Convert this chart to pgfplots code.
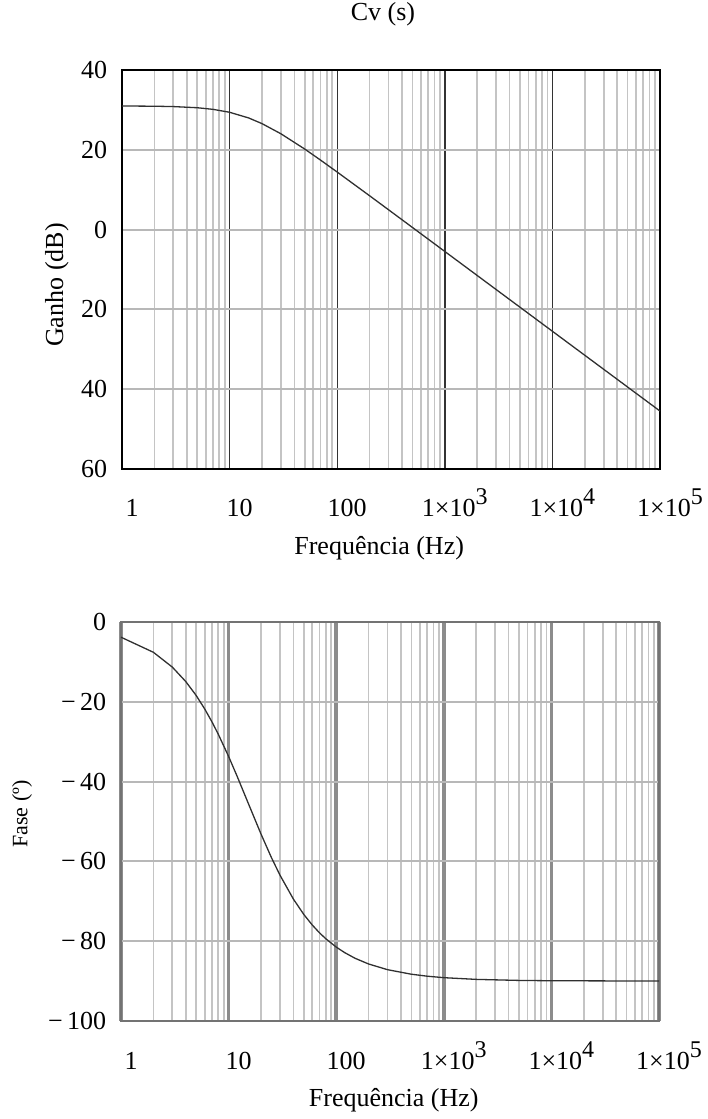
\documentclass[border=0pt]{standalone}
\usepackage{fontspec}
\setmainfont{Liberation Serif}
\usepackage{pgfplots}
\pgfplotsset{compat=1.18}

\definecolor{gridminor}{HTML}{C4C4C4}
\definecolor{gridy}{HTML}{B8B8B8}
\definecolor{curve}{HTML}{303030}

\newcommand{\sx}[1]{1×10\raisebox{12pt}{\fontsize{24}{24}\selectfont #1}}

\begin{document}
\fontsize{26}{31}\selectfont
\begin{tikzpicture}[x=1pt,y=1pt]
\useasboundingbox (0,0) rectangle (707,1119);

% ---------- Gain ----------
\begin{axis}[
  scale only axis, width=538pt, height=399pt,
  at={(122pt,650pt)}, anchor=south west,
  xmode=log, xmin=1, xmax=100000,
  xtick={1,10,100,1000,10000,100000},
  xticklabels={1,10,100,\sx{3},\sx{4},\sx{5}},
  minor xtick={2,3,4,5,6,7,8,9,20,30,40,50,60,70,80,90,200,300,400,500,600,700,800,900,2000,3000,4000,5000,6000,7000,8000,9000,20000,30000,40000,50000,60000,70000,80000,90000},
  xmajorgrids, xminorgrids, ymajorgrids,
  major tick length=0pt, minor tick length=0pt,
  xticklabel style={anchor=base, yshift=-48pt, xshift=10pt},
  yticklabel style={xshift=-6pt},
  ymin=-60, ymax=40,
  ytick={-60,-40,-20,0,20,40},
  yticklabels={60,40,20,0,20,40},
  axis line style={black, line width=1.3pt},
  every major x grid/.style={black!80, line width=1.4pt},
  every minor x grid/.style={gridminor, line width=1.7pt},
  every major y grid/.style={gridy, line width=1.9pt},
  title={Cv (s)},
  title style={at={(axis description cs:0.485,1.125)}, anchor=center},
  ylabel={Ganho (dB)},
  ylabel style={at={(axis description cs:-0.121,0.461)}, anchor=center},
  xlabel={Frequência (Hz)},
  xlabel style={at={(axis description cs:0.478,-0.198)}, anchor=center},
]
\addplot[no markers, curve, line width=1.3pt] coordinates {
 (1,30.98) (2,30.92) (3,30.83) (5,30.54) (7,30.14) (10,29.40) (15,27.99)
 (20,26.56) (30,24.01) (50,20.17) (70,17.42) (100,14.42) (200,8.48)
 (300,4.97) (500,0.54) (1000,-5.48) (2000,-11.50) (10000,-25.48) (100000,-45.48)
};
\end{axis}

% ---------- Phase ----------
\begin{axis}[
  scale only axis, width=538pt, height=399pt,
  at={(121pt,98pt)}, anchor=south west,
  xmode=log, xmin=1, xmax=100000,
  xtick={1,10,100,1000,10000,100000},
  xticklabels={1,10,100,\sx{3},\sx{4},\sx{5}},
  minor xtick={2,3,4,5,6,7,8,9,20,30,40,50,60,70,80,90,200,300,400,500,600,700,800,900,2000,3000,4000,5000,6000,7000,8000,9000,20000,30000,40000,50000,60000,70000,80000,90000},
  xmajorgrids, xminorgrids, ymajorgrids,
  major tick length=0pt, minor tick length=0pt,
  xticklabel style={anchor=base, yshift=-48pt, xshift=10pt},
  yticklabel style={xshift=-6pt},
  ymin=-100, ymax=0,
  ytick={-100,-80,-60,-40,-20,0},
  yticklabels={−\,100,−\,80,−\,60,−\,40,−\,20,0},
  axis line style={black!55, line width=1.7pt},
  every major x grid/.style={black!45, line width=3.5pt},
  every minor x grid/.style={gridminor, line width=1.7pt},
  every major y grid/.style={gridy, line width=1.9pt},
  ylabel={\fontsize{22}{26}\selectfont Fase (º)},
  ylabel style={at={(axis description cs:-0.184,0.519)}, anchor=center},
  xlabel={Frequência (Hz)},
  xlabel style={at={(axis description cs:0.507,-0.198)}, anchor=center},
]
\addplot[no markers, curve, line width=1.3pt] coordinates {
 (1,-3.81) (2,-7.59) (3,-11.31) (4,-14.93) (5,-18.43) (6,-21.80) (7,-25.02)
 (8,-28.07) (10,-33.69) (12,-38.66) (15,-45.00) (20,-53.13) (25,-59.04)
 (30,-63.43) (40,-69.44) (50,-73.30) (60,-75.96) (70,-77.91) (80,-79.38)
 (100,-81.47) (120,-82.87) (150,-84.29) (200,-85.71) (300,-87.14)
 (500,-88.28) (700,-88.77) (1000,-89.14) (2000,-89.57) (5000,-89.83)
 (10000,-89.91) (100000,-89.99)
};
\end{axis}
\end{tikzpicture}
\end{document}
